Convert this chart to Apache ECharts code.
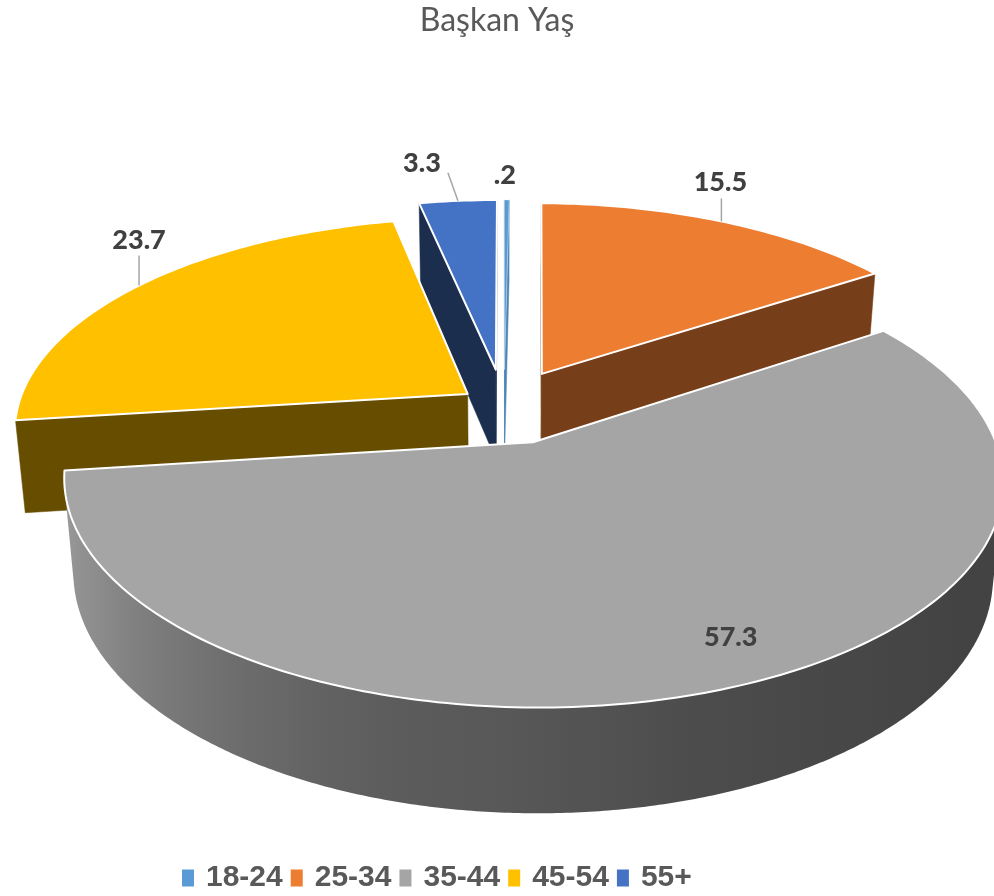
<!DOCTYPE html>
<html><head><meta charset="utf-8">
<script src="https://cdn.jsdelivr.net/npm/echarts@6/dist/echarts.min.js"></script>
<style>html,body{margin:0;padding:0;background:#fff}#c{width:994px;height:896px}</style>
</head><body><div id="c"></div><script>
// ---- data ----
const chartTitle = 'Başkan Yaş';
const categories = ['18-24', '25-34', '35-44', '45-54', '55+'];
const values = [0.2, 15.5, 57.3, 23.7, 3.3];
const labelTexts = ['.2', '15.5', '57.3', '23.7', '3.3'];

// ---- style ----
const colors = ['#5B9BD5', '#ED7D31', '#A5A5A5', '#FFC000', '#4472C4'];
const cutShade = [0.85, 0.5, 0.45, 0.4, 0.4];
const explode = [0.18, 0.18, 0.18, 0.10, 0.18];
const edgeWidth = [0.4, 2, 2, 2, 2];
const labelLayout = [
  {dx: -2, dy: -25},
  {dx: -1, dy: -39, lx: 0, ly: -23},
  {inside: true, r: 0.85, da: -5},
  {dx: 0, dy: -45, lx: 0, ly: -30},
  {dx: -36, dy: -38, lx: -10, ly: -28}
];
const CAM = {X0: 504, Y0: 406, F: 2430, D: 5.4, th: 27.6 * Math.PI / 180, H: 0.235};
const wallShadeTable = [[90,0.40],[104,0.40],[129,0.41],[159,0.45],[180,0.52],[199,0.57],[217,0.68],[239,0.84],[255,0.93],[270,0.95]];

const sT = Math.sin(CAM.th), cT = Math.cos(CAM.th);
const camPos = [0, CAM.D * cT, CAM.D * sT];
function proj(x, y, z) {
  const v = -y * sT + z * cT;
  const d = CAM.D - (y * cT + z * sT);
  return [CAM.X0 + CAM.F * x / d, CAM.Y0 - CAM.F * v / d];
}
const rad = a => a * Math.PI / 180;
function shade(hex, f) {
  const n = parseInt(hex.slice(1), 16);
  const r = (n >> 16) & 255, g = (n >> 8) & 255, b = n & 255;
  return 'rgb(' + Math.round(r * f) + ',' + Math.round(g * f) + ',' + Math.round(b * f) + ')';
}
function wallShade(a) {
  const t = wallShadeTable;
  if (a <= t[0][0]) return t[0][1];
  for (let k = 1; k < t.length; k++) {
    if (a <= t[k][0]) {
      const u = (a - t[k-1][0]) / (t[k][0] - t[k-1][0]);
      return t[k-1][1] + u * (t[k][1] - t[k-1][1]);
    }
  }
  return t[t.length-1][1];
}
function visible(n, p) {
  return n[0] * (camPos[0] - p[0]) + n[1] * (camPos[1] - p[1]) + n[2] * (camPos[2] - p[2]) > 0;
}
const total = values.reduce((s, v) => s + v, 0);

function sliceStart(i) {
  let start = 0;
  for (let j = 0; j < i; j++) start += values[j];
  return start / total * 360;
}

function makeRender(i) {
  return function (params, api) {
    const val = api.value(0);
    const a0 = sliceStart(i);
    const a1 = a0 + val / total * 360;
    const b = (a0 + a1) / 2;
    const e = explode[i];
    const ox = e * Math.sin(rad(b)), oy = -e * Math.cos(rad(b));
    const H = CAM.H;
    const col = colors[i];
    const rim = a => [ox + Math.sin(rad(a)), oy - Math.cos(rad(a))];
    const children = [];

    // cut faces
    [[a0, a0 - 90], [a1, a1 + 90]].forEach(([a, na]) => {
      const n = [Math.sin(rad(na)), -Math.cos(rad(na)), 0];
      const r = rim(a);
      const mid = [(ox + r[0]) / 2, (oy + r[1]) / 2, -H / 2];
      if (visible(n, mid)) {
        children.push({
          type: 'polygon',
          shape: {points: [proj(ox, oy, 0), proj(r[0], r[1], 0), proj(r[0], r[1], -H), proj(ox, oy, -H)]},
          style: {fill: shade(col, cutShade[i]), stroke: shade(col, cutShade[i]), lineWidth: 0.5}
        });
      }
    });

    // outer wall
    const step = Math.min(0.5, (a1 - a0) / 4);
    const samples = [];
    for (let a = a0; a < a1; a += step) samples.push(a);
    samples.push(a1);
    let runs = [], cur = null;
    samples.forEach(a => {
      const r = rim(a);
      const n = [Math.sin(rad(a)), -Math.cos(rad(a)), 0];
      if (visible(n, [r[0], r[1], -H / 2])) {
        if (!cur) { cur = []; runs.push(cur); }
        cur.push(a);
      } else cur = null;
    });
    runs.forEach(run => {
      if (run.length < 2) return;
      const top = run.map(a => { const r = rim(a); return proj(r[0], r[1], 0); });
      const bot = run.map(a => { const r = rim(a); return proj(r[0], r[1], -H); });
      const pts = top.concat(bot.slice().reverse());
      let minx = Infinity, maxx = -Infinity;
      pts.forEach(p => { minx = Math.min(minx, p[0]); maxx = Math.max(maxx, p[0]); });
      const w = Math.max(1, maxx - minx);
      const stops = [];
      for (let k = 0; k < run.length; k += Math.max(1, Math.floor(run.length / 40))) {
        stops.push({offset: Math.min(1, Math.max(0, (top[k][0] - minx) / w)), color: shade(col, wallShade(run[k]))});
      }
      stops.push({offset: Math.min(1, Math.max(0, (top[run.length-1][0] - minx) / w)), color: shade(col, wallShade(run[run.length-1]))});
      stops.sort((p, q) => p.offset - q.offset);
      children.push({
        type: 'polygon',
        shape: {points: pts},
        style: {fill: {type: 'linear', x: 0, y: 0, x2: 1, y2: 0, colorStops: stops}}
      });
    });

    // top face
    const tpts = [proj(ox, oy, 0)];
    const tstep = Math.min(1, (a1 - a0) / 4);
    for (let a = a0; a < a1; a += tstep) { const r = rim(a); tpts.push(proj(r[0], r[1], 0)); }
    { const r = rim(a1); tpts.push(proj(r[0], r[1], 0)); }
    children.push({
      type: 'polygon',
      shape: {points: tpts},
      style: {fill: col, stroke: '#ffffff', lineWidth: edgeWidth[i], lineJoin: 'round'}
    });

    // label
    const L = labelLayout[i];
    const font = {fontFamily: 'Lato', fontWeight: 900, fontSize: 27, fill: '#404040', align: 'center', verticalAlign: 'middle'};
    if (L.inside) {
      const aa = b + L.da;
      const p = proj(ox + L.r * Math.sin(rad(aa)), oy - L.r * Math.cos(rad(aa)), 0);
      children.push({type: 'text', x: p[0], y: p[1], style: Object.assign({text: labelTexts[i]}, font)});
    } else {
      const rb = [ox + Math.sin(rad(b)), oy - Math.cos(rad(b))];
      const p = proj(rb[0], rb[1], 0);
      if (L.lx !== undefined) {
        children.push({type: 'line', shape: {x1: p[0], y1: p[1], x2: p[0] + L.lx, y2: p[1] + L.ly},
          style: {stroke: '#a6a6a6', lineWidth: 1.5}});
      }
      children.push({type: 'text', x: p[0] + L.dx, y: p[1] + L.dy, style: Object.assign({text: labelTexts[i]}, font)});
    }
    return {type: 'group', children};
  };
}

// painter order: back slices first
const depthKey = categories.map((c, i) => -Math.cos(rad(sliceStart(i) + values[i] / total * 180)));
const order = depthKey.map((d, i) => i).sort((p, q) => depthKey[p] - depthKey[q]);
const zOf = []; order.forEach((idx, rank) => zOf[idx] = 2 + rank);

const chart = echarts.init(document.getElementById('c'), null, {renderer: 'canvas'});
chart.setOption({
  backgroundColor: '#ffffff',
  animation: false,
  title: {
    text: chartTitle, left: 'center', top: 0,
    textStyle: {fontFamily: 'Lato', fontWeight: 'normal', fontSize: 32, color: '#595959'}
  },
  legend: {
    data: categories, left: 177, top: 858, icon: 'rect', itemWidth: 12, itemHeight: 17, itemGap: 8,
    textStyle: {fontFamily: '"Liberation Sans", Arial, sans-serif', fontWeight: 'bold', fontSize: 30, color: '#595959', padding: [0, 0, 0, 7]}
  },
  series: categories.map((name, i) => ({
    type: 'custom', name, coordinateSystem: 'none', silent: true, z: zOf[i],
    itemStyle: {color: colors[i]},
    data: [[values[i]]],
    renderItem: makeRender(i)
  }))
});
</script></body></html>
